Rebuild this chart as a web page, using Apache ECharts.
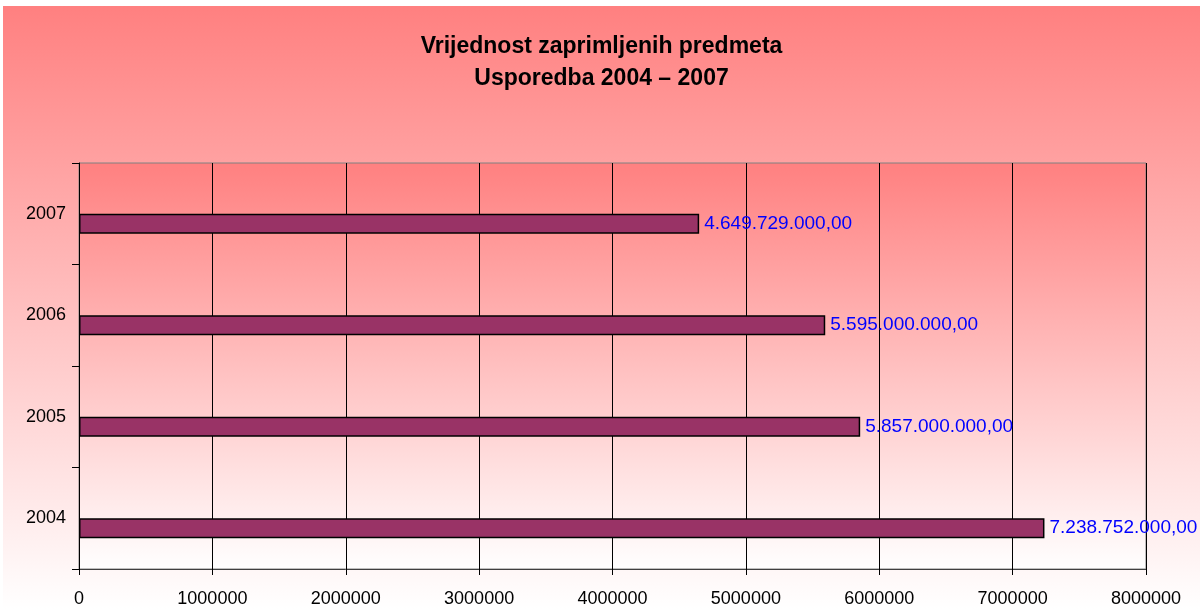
<!DOCTYPE html>
<html>
<head>
<meta charset="utf-8">
<script src="https://cdn.jsdelivr.net/npm/echarts@6/dist/echarts.min.js"></script>
<style>
html,body{margin:0;padding:0;background:#fff;}
#c{position:absolute;left:3px;top:6px;width:1197px;height:603px;}
</style>
</head>
<body>
<div id="c"></div>
<script>
var categories = ['2004', '2005', '2006', '2007'];
var values = [7238752, 5857000, 5595000, 4649729];
var xTicks = [0, 1000000, 2000000, 3000000, 4000000, 5000000, 6000000, 7000000, 8000000];
var titleLines = ['Vrijednost zaprimljenih predmeta', 'Usporedba 2004 – 2007'];

function fmt(v) {
  var n = Math.round(v * 1000);
  var s = String(n).replace(/\B(?=(\d{3})+(?!\d))/g, '.');
  return s + ',00';
}

var chart = echarts.init(document.getElementById('c'));
chart.setOption({
  backgroundColor: new echarts.graphic.LinearGradient(0, 0, 0, 1, [
    {offset: 0, color: '#FF8080'},
    {offset: 1, color: '#FFFFFF'}
  ]),
  animation: false,
  title: {
    text: titleLines.join('\n'),
    left: 'center',
    top: 20,
    textStyle: {
      fontFamily: 'Liberation Sans Narrow, Liberation Sans, Arial',
      fontWeight: 'bold',
      fontSize: 23,
      lineHeight: 32,
      color: '#000'
    }
  },
  grid: {
    left: 76, right: 54, top: 157, bottom: 40,
    show: true,
    borderColor: '#808080',
    borderWidth: 1,
    backgroundColor: new echarts.graphic.LinearGradient(0, 0, 0, 1, [
      {offset: 0, color: '#FF8080'},
      {offset: 1, color: '#FFFFFF'}
    ])
  },
  xAxis: {
    type: 'value',
    min: xTicks[0],
    max: xTicks[xTicks.length - 1],
    interval: 1000000,
    axisLine: {show: true, lineStyle: {color: '#404040', width: 1}},
    axisTick: {show: true, length: 6, lineStyle: {color: '#000'}},
    axisLabel: {
      color: '#000', fontSize: 18, fontFamily: 'Liberation Sans, Arial', margin: 21,
      formatter: function (v) { return String(v); }
    },
    splitLine: {show: true, lineStyle: {color: '#000', width: 1}}
  },
  yAxis: {
    type: 'category',
    data: categories,
    axisLine: {show: true, lineStyle: {color: '#000', width: 1}},
    axisTick: {show: true, length: 7, lineStyle: {color: '#000'}},
    axisLabel: {color: '#000', fontSize: 18, fontFamily: 'Liberation Sans, Arial', margin: 13},
    splitLine: {show: false}
  },
  series: [
    {
      type: 'bar',
      data: categories.map(function () { return null; }),
      barWidth: 20,
      barGap: '0%',
      itemStyle: {color: '#993366'}
    },
    {
      type: 'bar',
      data: values,
      barWidth: 20,
      barGap: '0%',
      itemStyle: {color: '#993366', borderColor: '#000', borderWidth: 1.5},
      label: {
        show: true, position: 'right', distance: 5,
        color: '#0000FF', fontSize: 19, fontFamily: 'Liberation Sans, Arial',
        formatter: function (p) { return fmt(p.value); }
      }
    }
  ]
});
</script>
</body>
</html>
